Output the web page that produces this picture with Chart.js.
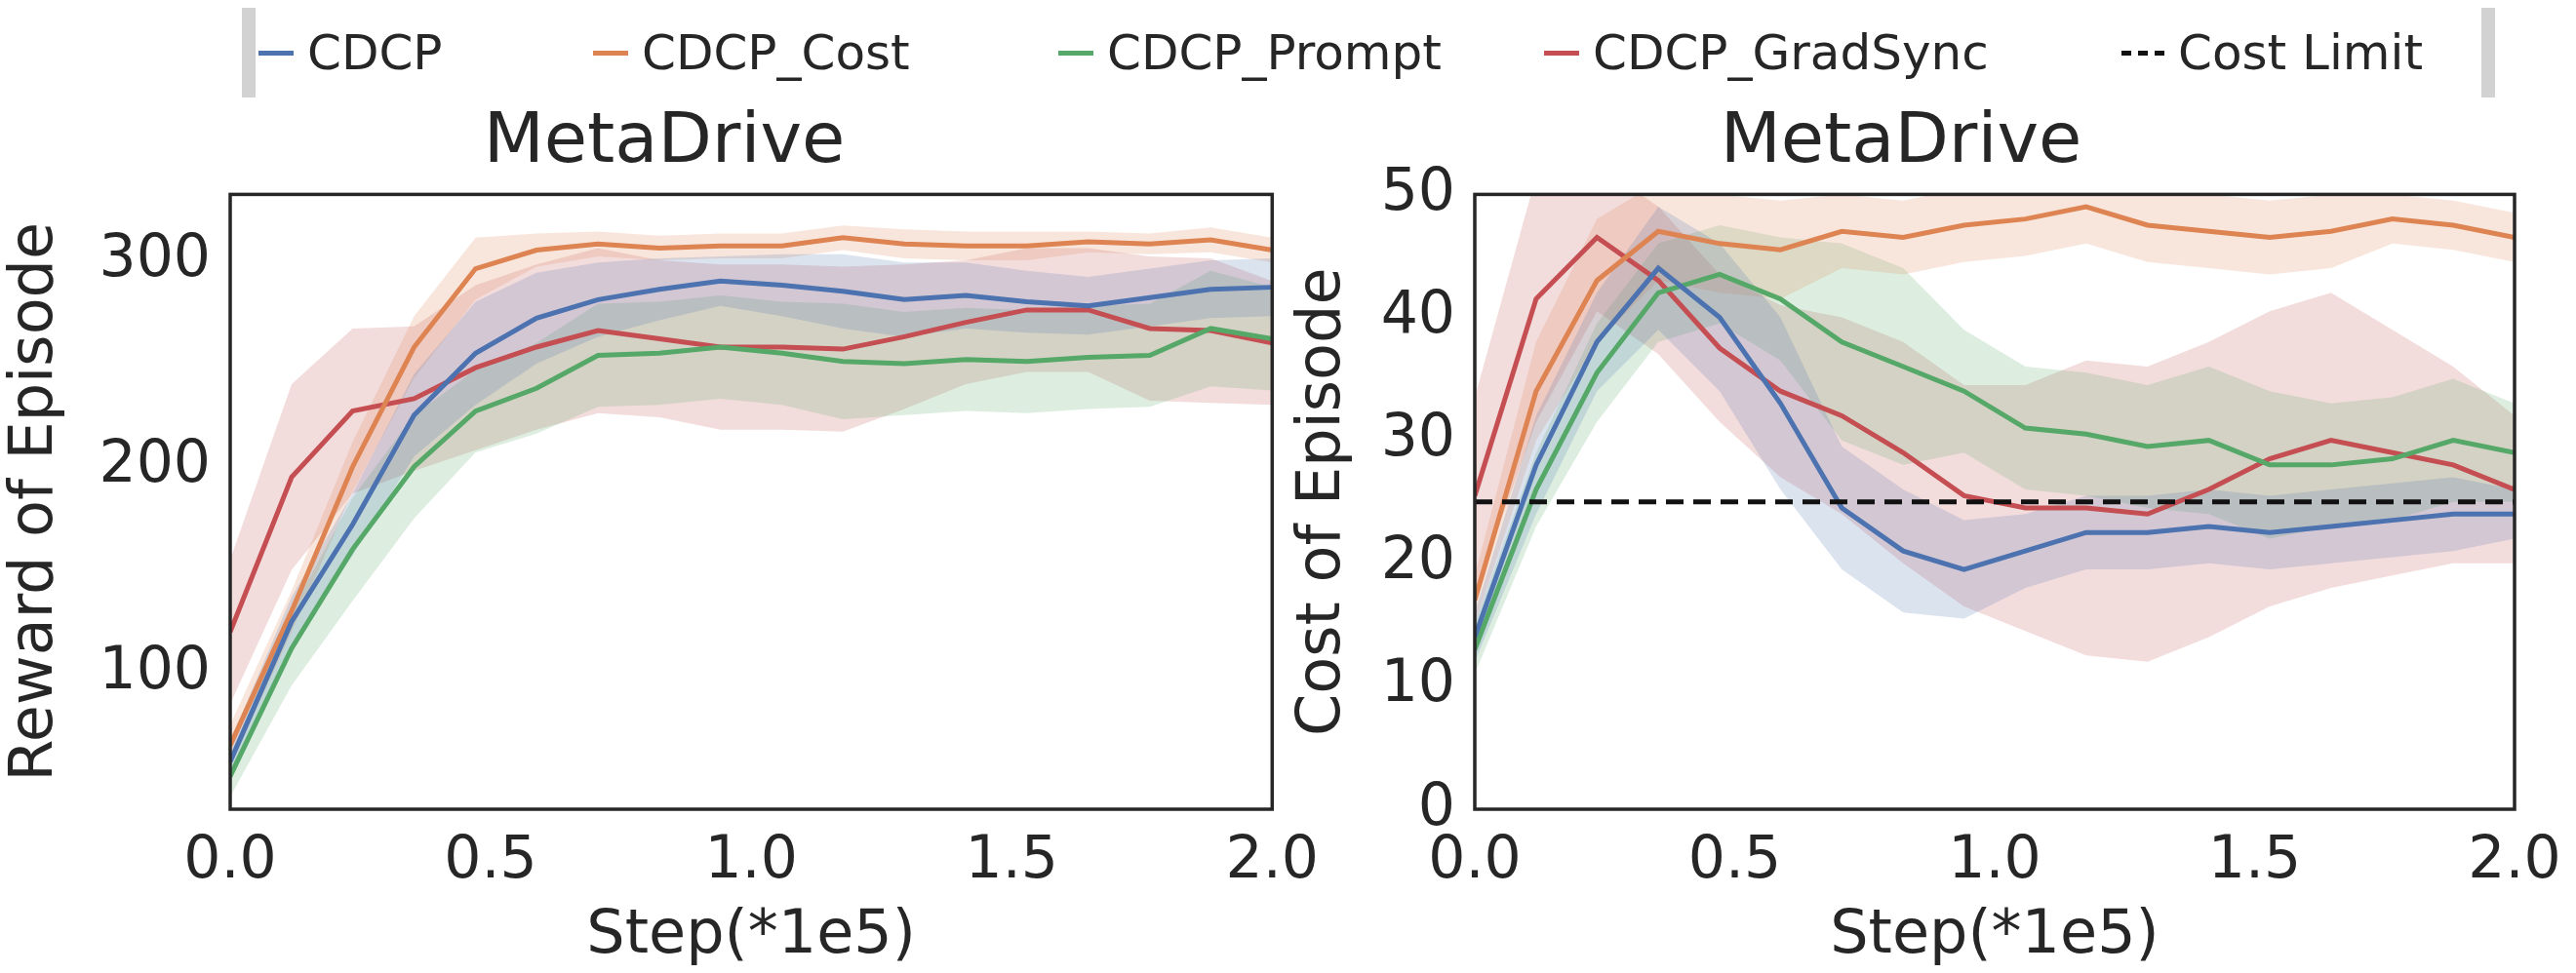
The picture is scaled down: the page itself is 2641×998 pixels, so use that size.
<!DOCTYPE html>
<html>
<head>
<meta charset="utf-8">
<script src="https://cdn.jsdelivr.net/npm/chart.js@4.4.0/dist/chart.umd.min.js"></script>
<style>
  body { margin: 0; background: #fff; width: 2641px; height: 998px; position: relative; overflow: hidden; font-family: "DejaVu Sans", sans-serif; color: #262626; }
  #legend { position: absolute; left: 248px; top: 8px; width: 2310px; height: 92px; border-left: 14px solid #d2d2d2; border-right: 14px solid #d2d2d2; box-sizing: border-box; }
  .item { position: absolute; top: 0; height: 92px; display: flex; align-items: center; font-size: 50px; }
  .swatch { width: 36px; height: 0; border-top: 5px solid; margin-right: 14px; }
  canvas { position: absolute; }
</style>
</head>
<body>
<div id="legend"></div>
<canvas id="leftChart" style="left:0;top:100px" width="1362" height="898"></canvas>
<canvas id="rightChart" style="left:1320px;top:100px" width="1321" height="898"></canvas>
<script>
const steps = [0, 0.118, 0.235, 0.353, 0.471, 0.588, 0.706, 0.824, 0.941, 1.059, 1.176, 1.294, 1.412, 1.529, 1.647, 1.765, 1.882, 2.0];
const seriesNames = ['CDCP', 'CDCP_Cost', 'CDCP_Prompt', 'CDCP_GradSync'];
const seriesColors = ['#4c72b0', '#dd8452', '#55a868', '#c44e52'];
const costLimit = 25;

// reward (left)
const rewardCDCP = [57, 125, 172, 225, 255, 272, 281, 286, 290, 288, 285, 281, 283, 280, 278, 282, 286, 287];
const rewardCost = [65, 130, 200, 258, 296, 305, 308, 306, 307, 307, 311, 308, 307, 307, 309, 308, 310, 305];
const rewardPrompt = [50, 112, 160, 200, 227, 238, 254, 255, 258, 255, 251, 250, 252, 251, 253, 254, 267, 262];
const rewardGradSync = [120, 195, 227, 233, 248, 258, 266, 262, 258, 258, 257, 263, 270, 276, 276, 267, 266, 260];
const rewardSpreadCDCP = [10, 12, 15, 20, 25, 22, 18, 15, 12, 15, 18, 18, 16, 15, 14, 14, 14, 14];
const rewardSpreadCost = [10, 10, 12, 15, 15, 8, 6, 6, 6, 6, 6, 7, 7, 7, 5, 5, 6, 6];
const rewardSpreadPrompt = [10, 18, 25, 25, 20, 22, 25, 25, 25, 25, 28, 25, 25, 25, 25, 25, 28, 25];
const rewardSpreadGradSync = [35, 45, 40, 35, 40, 40, 40, 38, 40, 40, 40, 35, 30, 30, 30, 35, 35, 30];

// cost (right)
const costCDCP = [14, 28, 38, 44, 40, 33, 24.5, 21, 19.5, 21, 22.5, 22.5, 23, 22.5, 23, 23.5, 24, 24];
const costCost = [17, 34, 43, 47, 46, 45.5, 47, 46.5, 47.5, 48, 49, 47.5, 47, 46.5, 47, 48, 47.5, 46.5];
const costPrompt = [13, 26, 35.5, 42, 43.5, 41.5, 38, 36, 34, 31, 30.5, 29.5, 30, 28, 28, 28.5, 30, 29];
const costGradSync = [25.5, 41.5, 46.5, 43, 37.5, 34, 32, 29, 25.5, 24.5, 24.5, 24, 26, 28.5, 30, 29, 28, 26];
const costSpreadCDCP = [2, 4, 4, 5, 6, 7, 5, 5, 4, 3, 3, 3, 3, 3, 3, 3, 3, 2];
const costSpreadCost = [2, 4, 5, 4, 4, 4, 3, 3, 3, 3, 3, 3, 3, 3, 3, 2, 2, 2];
const costSpreadPrompt = [2, 3, 4, 4, 4, 5, 8, 8, 5, 5, 5, 5, 6, 6, 5, 5, 5, 4];
const costSpreadGradSync = [8, 10, 6, 6, 6, 7, 8, 9, 9, 10, 12, 12, 12, 12, 12, 10, 8, 6];

// legend
const legendX = [265, 608, 1085, 1583];
const legendBox = document.getElementById('legend');
seriesNames.forEach((name, i) => {
    legendBox.innerHTML += `<div class="item" style="left:${legendX[i] - 262}px"><div class="swatch" style="border-color:${seriesColors[i]}"></div>${name}</div>`;
});
legendBox.innerHTML += `<div class="item" style="left:${2175 - 262}px"><div class="swatch" style="border-top:5px dashed #111;width:44px"></div>Cost Limit</div>`;

function hexA(hex, a) {
    const n = parseInt(hex.slice(1), 16);
    return `rgba(${n >> 16},${(n >> 8) & 255},${n & 255},${a})`;
}

function buildDatasets(means, spreads) {
    const sets = [];
    means.forEach((m, i) => {
        const c = seriesColors[i];
        sets.push({ data: steps.map((x, j) => ({ x, y: m[j] + spreads[i][j] })), borderWidth: 0, pointRadius: 0, backgroundColor: hexA(c, 0.2), fill: '+1', order: 10 });
        sets.push({ data: steps.map((x, j) => ({ x, y: m[j] - spreads[i][j] })), borderWidth: 0, pointRadius: 0, fill: false, order: 10 });
    });
    means.forEach((m, i) => {
        sets.push({ data: steps.map((x, j) => ({ x, y: m[j] })), borderColor: seriesColors[i], borderWidth: 5, pointRadius: 0, fill: false, order: 1 });
    });
    return sets;
}

const frame = {
    id: 'frame',
    afterDraw(chart) {
        const a = chart.chartArea, ctx = chart.ctx;
        ctx.save();
        ctx.strokeStyle = '#262626';
        ctx.lineWidth = 3.5;
        ctx.strokeRect(a.left, a.top, a.right - a.left, a.bottom - a.top);
        ctx.restore();
    }
};

function makeChart(id, datasets, yLabel, yMin, yMax, yTicks, yWidth, padRight) {
    const font = { family: 'DejaVu Sans', size: 60 };
    return new Chart(document.getElementById(id), {
        type: 'line',
        data: { datasets },
        options: {
            responsive: false,
            animation: false,
            layout: { padding: { right: padRight, top: 0 } },
            plugins: {
                legend: { display: false },
                tooltip: { enabled: false },
                title: { display: true, text: 'MetaDrive', color: '#262626', font: { family: 'DejaVu Sans', size: 72, weight: 'normal' }, padding: { top: 4, bottom: 9 } }
            },
            scales: {
                x: {
                    type: 'linear', min: 0, max: 2,
                    grid: { display: false }, border: { display: false },
                    ticks: { stepSize: 0.5, color: '#262626', font, padding: 10, callback: v => v.toFixed(1) },
                    title: { display: true, text: 'Step(*1e5)', color: '#262626', font: { family: 'DejaVu Sans', size: 62 }, padding: 0 },
                    afterFit: s => { s.height = 168; }
                },
                y: {
                    min: yMin, max: yMax,
                    grid: { display: false }, border: { display: false },
                    afterBuildTicks: s => { s.ticks = yTicks.map(v => ({ value: v })); },
                    ticks: { color: '#262626', font, padding: 12 },
                    title: { display: true, text: yLabel, color: '#262626', font: { family: 'DejaVu Sans', size: 62 }, padding: 0 },
                    afterFit: s => { s.width = yWidth; }
                }
            }
        },
        plugins: [frame]
    });
}

const leftSets = buildDatasets([rewardCDCP, rewardCost, rewardPrompt, rewardGradSync],
    [rewardSpreadCDCP, rewardSpreadCost, rewardSpreadPrompt, rewardSpreadGradSync]);
makeChart('leftChart', leftSets, 'Reward of Episode', 34, 332, [100, 200, 300], 236, 0);

const rightSets = buildDatasets([costCDCP, costCost, costPrompt, costGradSync],
    [costSpreadCDCP, costSpreadCost, costSpreadPrompt, costSpreadGradSync]);
rightSets.push({ data: [{ x: 0, y: costLimit }, { x: 2, y: costLimit }], borderColor: '#111', borderWidth: 5, borderDash: [18, 10], pointRadius: 0, fill: false, order: 0 });
makeChart('rightChart', rightSets, 'Cost of Episode', 0, 50, [0, 10, 20, 30, 40, 50], 192, 63);
</script>
</body>
</html>
